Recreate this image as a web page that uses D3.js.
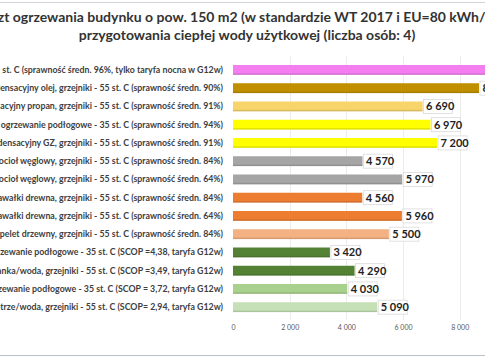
<!DOCTYPE html>
<html lang="pl">
<head>
    <meta charset="UTF-8">
    <title>Koszt ogrzewania</title>
    <script src="https://d3js.org/d3.v7.min.js"></script>
    <style>
        body { margin: 0; background: #fff; }
        svg { display: block; font-family: Lato, "Open Sans", sans-serif; }
    </style>
</head>
<body>
<svg id="main" width="485" height="360"></svg>
<script>
    // kategorie (od góry)
    const categories = [
        "Ogrzewanie elektryczne akumulacyjne - 55 st. C  (sprawność średn. 96%, tylko taryfa nocna w G12w)",
        "Kocioł kondensacyjny olej,  grzejniki - 55 st. C (sprawność średn. 90%)",
        "Kocioł kondensacyjny propan, grzejniki - 55 st. C (sprawność średn. 91%)",
        "Kocioł kondensacyjny GZ, ogrzewanie podłogowe - 35 st. C (sprawność średn. 94%)",
        "Kocioł kondensacyjny GZ, grzejniki - 55 st. C (sprawność średn. 91%)",
        "Automatyczny kocioł węglowy,  grzejniki - 55 st. C (sprawność średn. 84%)",
        "Zasypowy kocioł węglowy,  grzejniki - 55 st. C (sprawność średn. 64%)",
        "Kocioł zgazowujący na kawałki drewna, grzejniki - 55 st. C (sprawność średn. 84%)",
        "Kocioł zasypowy na kawałki drewna, grzejniki - 55 st. C (sprawność średn. 64%)",
        "Kocioł na pelet drzewny, grzejniki - 55 st. C (sprawność średn. 84%)",
        "Pompa ciepła solanka/woda, ogrzewanie podłogowe - 35 st. C (SCOP =4,38, taryfa G12w)",
        "Pompa ciepła solanka/woda, grzejniki - 55 st. C (SCOP =3,49, taryfa G12w)",
        "Pompa ciepła powietrze/woda, ogrzewanie podłogowe - 35 st. C (SCOP = 3,72, taryfa G12w)",
        "Pompa ciepła powietrze/woda, grzejniki - 55 st. C (SCOP= 2,94, taryfa G12w)"
    ];
    const values = [9800, 8680, 6690, 6970, 7200, 4570, 5970, 4560, 5960, 5500, 3420, 4290, 4030, 5090];
    const barColors = ["#f47ef0", "#bf8f00", "#f7d56a", "#ffff00", "#ffff00", "#a5a5a5", "#a5a5a5",
        "#ed7d31", "#ed7d31", "#f4b183", "#548235", "#548235", "#a9d18e", "#c5e0b4"];
    const xTicks = [0, 2000, 4000, 6000, 8000];
    const titleLines = [
        "Roczny koszt ogrzewania budynku  o pow. 150 m2 (w standardzie WT 2017 i EU=80 kWh/m2rok) oraz",
        "przygotowania ciepłej wody użytkowej (liczba osób: 4)"
    ];

    const fmt = v => d3.format(",")(v).replace(/,/g, " ");

    let svg = d3.select('svg#main');

    // ramka zrzutu ekranu
    svg.append('line').attr('x1', 0).attr('x2', 485).attr('y1', 2.5).attr('y2', 2.5)
        .attr('stroke', '#d0d4d8');
    svg.append('line').attr('x1', 0).attr('x2', 485).attr('y1', 355.5).attr('y2', 355.5)
        .attr('stroke', '#b8c0c8');

    // tytuł
    svg.selectAll('text.title')
        .data(titleLines)
        .enter()
        .append('text')
        .attr('class', 'title')
        .attr('x', (d, i) => i === 0 ? 244 : 247)
        .attr('y', (d, i) => 22 + i * 18)
        .attr('text-anchor', 'middle')
        .attr('font-size', 14)
        .attr('font-weight', 'bold')
        .attr('fill', '#333')
        .text(d => d);

    let xScale = d3.scaleLinear().domain([0, 8000]).range([233, 459.7]);
    let yScale = d3.scaleBand().domain(d3.range(categories.length)).range([56.6, 320.5]).padding(0.46);

    // linie siatki
    svg.selectAll('line.grid')
        .data(xTicks.slice(1))
        .enter()
        .append('line')
        .attr('class', 'grid')
        .attr('x1', d => Math.round(xScale(d)) + 0.5)
        .attr('x2', d => Math.round(xScale(d)) + 0.5)
        .attr('y1', 56)
        .attr('y2', 320)
        .attr('stroke', '#ececec');

    // oś X
    let xAxis = svg.append('g')
        .attr('transform', 'translate(0,320)')
        .call(d3.axisBottom(xScale).tickValues(xTicks).tickFormat(fmt).tickSize(0).tickPadding(5));
    xAxis.select('.domain').remove();
    xAxis.selectAll('text').attr('font-size', 7).attr('fill', '#595959').attr('font-family', 'Lato, sans-serif');

    // etykiety kategorii
    svg.selectAll('text.cat')
        .data(categories)
        .enter()
        .append('text')
        .attr('class', 'cat')
        .attr('x', 223)
        .attr('y', (d, i) => yScale(i) + yScale.bandwidth() / 2 + 3)
        .attr('text-anchor', 'end')
        .attr('font-size', 8.8)
        .attr('font-weight', 'bold')
        .attr('fill', '#404040')
        .text(d => d);

    // słupki
    svg.selectAll('rect.bar')
        .data(values)
        .enter()
        .append('rect')
        .attr('class', 'bar')
        .attr('x', xScale(0))
        .attr('y', (d, i) => yScale(i))
        .attr('width', d => xScale(d) - xScale(0))
        .attr('height', yScale.bandwidth())
        .attr('fill', (d, i) => barColors[i]);

    // lekki cień na dole słupków
    svg.selectAll('rect.shade')
        .data(values)
        .enter()
        .append('rect')
        .attr('class', 'shade')
        .attr('x', xScale(0))
        .attr('y', (d, i) => yScale(i) + yScale.bandwidth() - 1.5)
        .attr('width', d => xScale(d) - xScale(0))
        .attr('height', 1.5)
        .attr('fill', '#000')
        .attr('opacity', 0.12);

    // etykiety wartości
    let labels = svg.selectAll('g.lbl')
        .data(values)
        .enter()
        .append('g')
        .attr('class', 'lbl')
        .attr('transform', (d, i) => `translate(${xScale(d) + 1},${yScale(i) + yScale.bandwidth() / 2})`);
    labels.append('rect')
        .attr('x', 0)
        .attr('y', -7)
        .attr('width', 29)
        .attr('height', 14)
        .attr('fill', '#fff')
        .attr('stroke', '#d9d9d9')
        .attr('stroke-width', 0.8);
    labels.append('text')
        .attr('x', 2.5)
        .attr('y', 4)
        .attr('font-size', 11)
        .attr('font-weight', 'bold')
        .attr('fill', '#222')
        .text(d => fmt(d));
</script>
</body>
</html>
